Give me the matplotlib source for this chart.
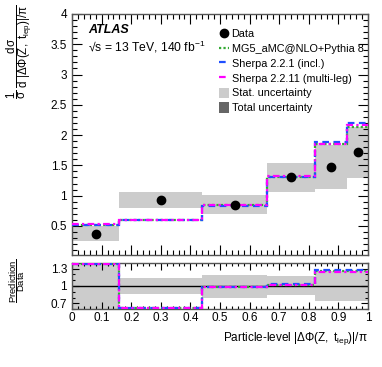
import numpy as np
import matplotlib
matplotlib.use("Agg")
import matplotlib.pyplot as plt
from matplotlib.patches import Patch
from matplotlib.lines import Line2D
from matplotlib.ticker import MultipleLocator, FormatStrFormatter

plt.rcParams['font.family'] = ['Liberation Sans', 'DejaVu Sans']
plt.rcParams['mathtext.fontset'] = 'custom'
plt.rcParams['mathtext.rm'] = 'Liberation Sans'
plt.rcParams['mathtext.it'] = 'Liberation Sans'
plt.rcParams['mathtext.bf'] = 'Liberation Sans:bold'

# ---- data ----
bin_edges = [0.0, 0.16, 0.44, 0.66, 0.82, 0.93, 1.0]
data_vals = [0.375, 0.935, 0.847, 1.30, 1.48, 1.716]
unc_lo = [0.243, 0.80, 0.693, 1.06, 1.117, 1.29]
unc_hi = [0.505, 1.06, 1.007, 1.535, 1.84, 2.14]
ratio_unc_lo = [0.55, 0.86, 0.79, 0.84, 0.75, 0.75]
ratio_unc_hi = [1.45, 1.13, 1.19, 1.18, 1.25, 1.25]
mg5_vals = [0.52, 0.60, 0.84, 1.315, 1.86, 2.14]
sherpa221_vals = [0.51, 0.59, 0.835, 1.31, 1.886, 2.206]
sherpa2211_vals = [0.54, 0.605, 0.845, 1.32, 1.85, 2.17]
mg5_ratio = [1.37, 0.63, 0.99, 1.02, 1.26, 1.26]
sherpa221_ratio = [1.37, 0.625, 0.985, 1.03, 1.28, 1.28]
sherpa2211_ratio = [1.38, 0.63, 0.99, 1.02, 1.245, 1.245]
xtick_labels = ['0', '0.1', '0.2', '0.3', '0.4', '0.5', '0.6', '0.7', '0.8', '0.9', '1']

edges = np.array(bin_edges)
data = np.array(data_vals)
lo = np.array(unc_lo)
hi = np.array(unc_hi)
rlo = np.array(ratio_unc_lo)
rhi = np.array(ratio_unc_hi)
centers = 0.5 * (edges[:-1] + edges[1:])
widths = np.diff(edges)

preds = [
    (np.array(mg5_vals), np.array(mg5_ratio), 'MG5_aMC@NLO+Pythia 8', '#33aa33', (0, (1, 1))),
    (np.array(sherpa221_vals), np.array(sherpa221_ratio), 'Sherpa 2.2.1 (incl.)', '#1f4fff', (0, (3, 2))),
    (np.array(sherpa2211_vals), np.array(sherpa2211_ratio), 'Sherpa 2.2.11 (multi-leg)', '#ff00ff', (0, (3, 1.5, 1, 1.5))),
]

W, H = 382, 367
fig = plt.figure(figsize=(W / 100, H / 100), dpi=100)
ax = fig.add_axes([72 / W, 1 - 255 / H, 296 / W, 241 / H])
rax = fig.add_axes([72 / W, 1 - 309.3 / H, 296 / W, 46.6 / H], sharex=ax)

gray = '#cccccc'
# main panel
ax.bar(edges[:-1], hi - lo, width=widths, bottom=lo, align='edge',
       color=gray, edgecolor='none', zorder=1)
for vals, rvals, lab, col, ls in preds:
    ax.stairs(vals, edges, baseline=None, color=col, linestyle=ls, lw=1.6, zorder=3)
ax.plot(centers, data, 'o', color='black', ms=6.0, zorder=5)

ax.set_xlim(0, 1)
ax.set_ylim(0.02, 4.0)
ax.yaxis.set_major_locator(MultipleLocator(0.5))
ax.yaxis.set_major_formatter(FormatStrFormatter('%g'))
ax.yaxis.set_minor_locator(MultipleLocator(0.1))
ax.xaxis.set_major_locator(MultipleLocator(0.1))
ax.xaxis.set_minor_locator(MultipleLocator(0.02))
ax.tick_params(labelbottom=False)
ax.set_ylabel(r'$\dfrac{1}{\sigma}\ \dfrac{\mathrm{d}\sigma}{\mathrm{d}\ |\Delta\Phi(Z,\ t_{\mathrm{lep}})|/\pi}$',
              fontsize=8.3, loc='top')
ax.yaxis.set_label_coords(-0.128, 1.04)

ax.text(0.054, 0.935, 'ATLAS', transform=ax.transAxes,
        fontsize=9, fontweight='bold', fontstyle='italic', va='center')
ax.text(0.054, 0.865, '\u221As = 13 TeV, 140 fb$^{-1}$', transform=ax.transAxes,
        fontsize=8.7, va='center')

handles = [Line2D([], [], marker='o', color='black', ls='none', ms=6.0)]
labels = ['Data']
for vals, rvals, lab, col, ls in preds:
    handles.append(Line2D([], [], color=col, ls=ls, lw=1.6))
    labels.append(lab)
handles += [Patch(facecolor=gray, edgecolor='none'), Patch(facecolor='#666666', edgecolor='none')]
labels += ['Stat. uncertainty', 'Total uncertainty']
ax.legend(handles, labels, loc='upper left', bbox_to_anchor=(0.497, 0.94), frameon=False,
          fontsize=7.8, handlelength=0.9, handleheight=1.1, handletextpad=0.25,
          labelspacing=0.36, borderpad=0, borderaxespad=0)

# ratio panel
rax.bar(edges[:-1], rhi - rlo, width=widths, bottom=rlo, align='edge',
        color=gray, edgecolor='none', zorder=1)
rax.axhline(1.0, color='black', lw=1.0, zorder=2)
for vals, rvals, lab, col, ls in preds:
    rax.stairs(rvals, edges, baseline=None, color=col, linestyle=ls, lw=1.6, zorder=3)
rax.set_ylim(0.6, 1.4)
rax.set_yticks([0.7, 1.0, 1.3])
rax.set_yticklabels(['0.7', '1', '1.3'])
rax.yaxis.set_minor_locator(MultipleLocator(0.1))
rax.set_xlim(0, 1)
rax.set_xticks(np.arange(0, 1.01, 0.1))
rax.set_xticklabels(xtick_labels)
rax.set_ylabel(r'$\dfrac{\mathrm{Prediction}}{\mathrm{Data}}$', fontsize=6.8)
rax.yaxis.set_label_coords(-0.152, 0.62)
rax.set_xlabel(r'Particle-level $|\Delta\Phi(Z,\ t_{\mathrm{lep}})|/\pi$', fontsize=8.5, loc='right')

for a in (ax, rax):
    a.tick_params(which='both', direction='in', top=True, right=True, labelsize=8.5)
    a.tick_params(which='major', length=7, width=0.8)
    a.tick_params(which='minor', length=3.5, width=0.8)
    for s in a.spines.values():
        s.set_linewidth(1.0)
        s.set_color('#555555')
rax.tick_params(which='major', length=5)
rax.tick_params(which='minor', length=2.5)
rax.tick_params(axis='x', pad=2)

fig.savefig('out.png', dpi=100)
